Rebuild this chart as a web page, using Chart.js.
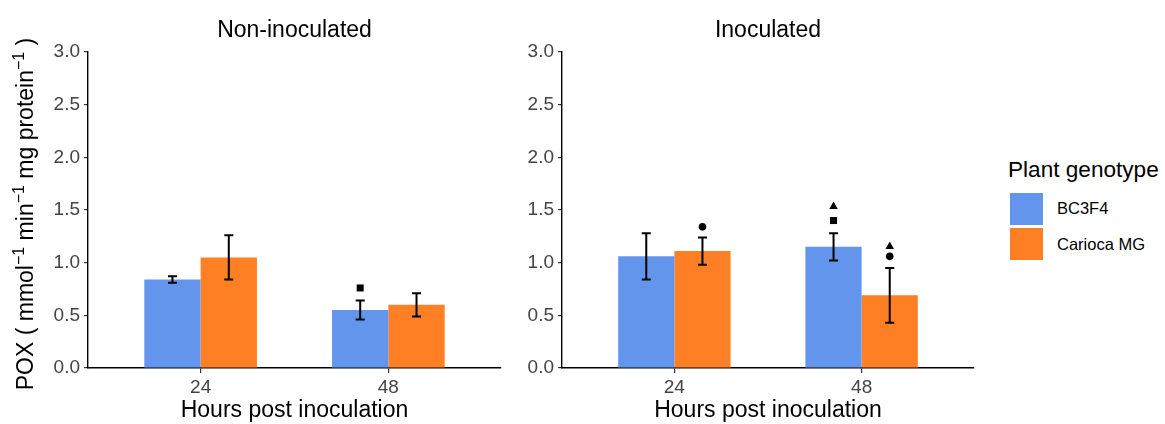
<!DOCTYPE html>
<html>
<head>
<meta charset="utf-8">
<script src="https://cdn.jsdelivr.net/npm/chart.js@4.4.1/dist/chart.umd.min.js"></script>
<style>
  html, body { margin: 0; padding: 0; background: #fff; }
  body { width: 1165px; height: 424px; overflow: hidden; position: relative; font-family: "Liberation Sans", Arial, sans-serif; }
  #c1 { position: absolute; left: 0; top: 0; }
  #c2 { position: absolute; left: 515px; top: 0; }
  #legend { position: absolute; left: 1008px; top: 159px; color: #000; }
  #legend .lt { font-size: 22.6px; line-height: 22px; white-space: nowrap; }
  #legend .row { position: absolute; left: 2px; height: 32px; display: flex; align-items: center; white-space: nowrap; font-size: 16.5px; }
  #legend .sw { width: 33px; height: 32px; margin-right: 14px; }
</style>
</head>
<body>
<canvas id="c1" width="510" height="424"></canvas>
<canvas id="c2" width="470" height="424"></canvas>
<div id="legend"></div>
<script>
// ---------------- data ----------------
const hours = ['24', '48'];
const genotypes = ['BC3F4', 'Carioca MG'];
const genotypeColors = ['#6495ED', '#FF7F24'];
const yTicks = [0, 0.5, 1.0, 1.5, 2.0, 2.5, 3.0];
const panelTitles = ['Non-inoculated', 'Inoculated'];

const nonBC3F4 = [0.84, 0.55];
const nonCarioca = [1.05, 0.60];
const nonBC3F4Err = [0.03, 0.09];
const nonCariocaErr = [0.21, 0.11];

const inoBC3F4 = [1.06, 1.15];
const inoCarioca = [1.11, 0.69];
const inoBC3F4Err = [0.22, 0.13];
const inoCariocaErr = [0.13, 0.26];

// significance symbols: series index, category index, shape, y value
const nonMarks = [
  { series: 0, cat: 1, shape: 'square', y: 0.76 }
];
const inoMarks = [
  { series: 1, cat: 0, shape: 'circle', y: 1.34 },
  { series: 0, cat: 1, shape: 'square', y: 1.40 },
  { series: 0, cat: 1, shape: 'triangle', y: 1.54 },
  { series: 1, cat: 1, shape: 'circle', y: 1.06 },
  { series: 1, cat: 1, shape: 'triangle', y: 1.16 }
];

const yTitleParts = [
  ['POX ( mmol', false], ['\u22121', true], [' min', false], ['\u22121', true],
  [' mg protein', false], ['\u22121', true], [' )', false]
];
const xTitle = 'Hours post inoculation';

// ---------------- rendering ----------------
const FONT = '"Liberation Sans", Arial, sans-serif';
const TICK_COLOR = '#444';
const TITLE_SIZE = 23;

const errorBarPlugin = {
  id: 'errorBars',
  afterDatasetsDraw(chart, args, opts) {
    const ctx = chart.ctx;
    const ys = chart.scales.y;
    ctx.save();
    ctx.strokeStyle = '#000';
    ctx.lineWidth = 2;
    chart.data.datasets.forEach((ds, di) => {
      const meta = chart.getDatasetMeta(di);
      meta.data.forEach((bar, j) => {
        const v = ds.data[j].y, e = ds.errors[j];
        const x = bar.x;
        const yt = ys.getPixelForValue(v + e), yb = ys.getPixelForValue(v - e);
        const hw = 4.5;
        ctx.beginPath();
        ctx.moveTo(x, yt); ctx.lineTo(x, yb);
        ctx.moveTo(x - hw, yt); ctx.lineTo(x + hw, yt);
        ctx.moveTo(x - hw, yb); ctx.lineTo(x + hw, yb);
        ctx.stroke();
      });
    });
    ctx.fillStyle = '#000';
    (opts.marks || []).forEach(m => {
      const bar = chart.getDatasetMeta(m.series).data[m.cat];
      const x = bar.x, y = ys.getPixelForValue(m.y);
      ctx.beginPath();
      if (m.shape === 'square') {
        ctx.rect(x - 3.5, y - 3.5, 7, 7);
      } else if (m.shape === 'circle') {
        ctx.arc(x, y, 3.8, 0, Math.PI * 2);
      } else if (m.shape === 'triangle') {
        ctx.moveTo(x, y - 4.2); ctx.lineTo(x + 4.2, y + 3.2); ctx.lineTo(x - 4.2, y + 3.2); ctx.closePath();
      }
      ctx.fill();
    });
    ctx.restore();
  }
};

const titlesPlugin = {
  id: 'panelTexts',
  afterDraw(chart, args, opts) {
    const ctx = chart.ctx;
    const ca = chart.chartArea;
    ctx.save();
    ctx.fillStyle = '#000';
    // panel title centred over the plotting area
    ctx.font = TITLE_SIZE + 'px ' + FONT;
    ctx.textAlign = 'center';
    ctx.textBaseline = 'alphabetic';
    ctx.fillText(opts.title, (ca.left + ca.right) / 2, 36.5);
    // x axis title centred over the plotting area
    ctx.fillText(xTitle, (ca.left + ca.right) / 2, 417);
    if (opts.showYTitle) {
      const mainSize = TITLE_SIZE, supSize = 16;
      ctx.textAlign = 'left';
      let total = 0;
      const widths = yTitleParts.map(([t, sup]) => {
        ctx.font = (sup ? supSize : mainSize) + 'px ' + FONT;
        const w = ctx.measureText(t).width; total += w; return w;
      });
      ctx.translate(33, (ca.top + ca.bottom) / 2 + 4);
      ctx.rotate(-Math.PI / 2);
      let x = -total / 2;
      yTitleParts.forEach(([t, sup], i) => {
        ctx.font = (sup ? supSize : mainSize) + 'px ' + FONT;
        ctx.fillText(t, x, sup ? -9 : 0);
        x += widths[i];
      });
    }
    ctx.restore();
  }
};

function makeChart(id, title, bc, car, bcErr, carErr, marks, yWidth, padRight, showYTitle) {
  const toPts = vals => hours.map((h, i) => ({ x: i + 1, y: vals[i] }));
  return new Chart(document.getElementById(id), {
    type: 'bar',
    data: {
      datasets: [
        { label: genotypes[0], data: toPts(bc), errors: bcErr, backgroundColor: genotypeColors[0], borderWidth: 0 },
        { label: genotypes[1], data: toPts(car), errors: carErr, backgroundColor: genotypeColors[1], borderWidth: 0 }
      ]
    },
    options: {
      responsive: false,
      animation: false,
      events: [],
      layout: { padding: { left: 0, right: padRight, top: 52, bottom: 0 } },
      datasets: { bar: { categoryPercentage: 0.6, barPercentage: 1.0 } },
      plugins: {
        legend: { display: false },
        tooltip: { enabled: false },
        title: { display: false },
        errorBars: { marks: marks },
        panelTexts: { title: title, showYTitle: showYTitle }
      },
      scales: {
        x: {
          type: 'linear', min: 0.4, max: 2.6, offset: false,
          afterBuildTicks: s => { s.ticks = hours.map((h, i) => ({ value: i + 1 })); },
          afterFit: s => { s.height = 56; },
          ticks: {
            callback: v => hours[Math.round(v) - 1] || '',
            color: TICK_COLOR, font: { family: FONT, size: 19 }, padding: 3,
            autoSkip: false, maxRotation: 0
          },
          grid: { display: true, offset: false, drawOnChartArea: false, drawTicks: true, tickLength: 5, color: '#333', lineWidth: 1.2 },
          border: { display: true, color: '#000', width: 1.4 }
        },
        y: {
          min: 0, max: 3,
          afterBuildTicks: s => { s.ticks = yTicks.map(v => ({ value: v })); },
          afterFit: s => { s.width = yWidth; },
          ticks: {
            callback: v => Number(v).toFixed(1),
            color: TICK_COLOR, font: { family: FONT, size: 19 }, padding: 4
          },
          grid: { display: true, drawOnChartArea: false, drawTicks: true, tickLength: 4, color: '#333', lineWidth: 1.2 },
          border: { display: true, color: '#000', width: 1.4 }
        }
      }
    },
    plugins: [errorBarPlugin, titlesPlugin]
  });
}

makeChart('c1', panelTitles[0], nonBC3F4, nonCarioca, nonBC3F4Err, nonCariocaErr, nonMarks, 88, 9, true);
makeChart('c2', panelTitles[1], inoBC3F4, inoCarioca, inoBC3F4Err, inoCariocaErr, inoMarks, 47, 11, false);

// legend
const lg = document.getElementById('legend');
const lt = document.createElement('div');
lt.className = 'lt'; lt.textContent = 'Plant genotype';
lg.appendChild(lt);
genotypes.forEach((g, i) => {
  const row = document.createElement('div');
  row.className = 'row';
  row.style.top = (33.5 + i * 35.5) + 'px';
  const sw = document.createElement('div');
  sw.className = 'sw'; sw.style.background = genotypeColors[i];
  const tx = document.createElement('span');
  tx.textContent = g;
  row.appendChild(sw); row.appendChild(tx);
  lg.appendChild(row);
});
</script>
</body>
</html>
